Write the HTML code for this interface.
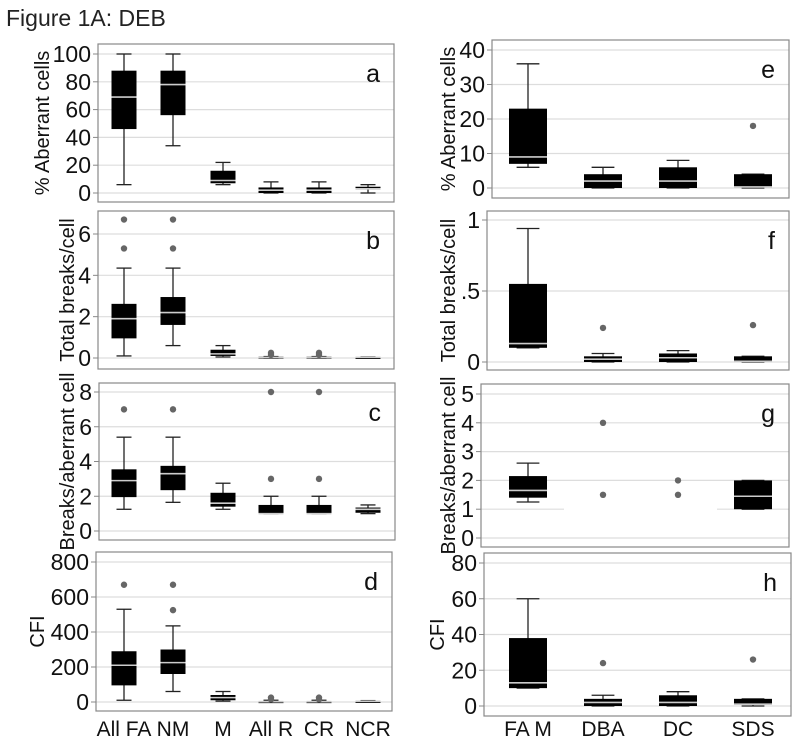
<!DOCTYPE html>
<html><head><meta charset="utf-8"><style>
html,body{margin:0;padding:0;background:#fff;}
svg{display:block;font-family:"Liberation Sans",sans-serif;}
</style></head><body>
<svg id="chart" width="800" height="746" viewBox="0 0 800 746" xmlns="http://www.w3.org/2000/svg">
<text x="6" y="26" font-size="23" fill="#222">Figure 1A: DEB</text>
</svg>
<script>
const leftCats = ["All FA","NM","M","All R","CR","NCR"];
const rightCats = ["FA M","DBA","DC","SDS"];
// box stats: [lowWhisker, q1, median, q3, highWhisker]
const boxesA = [[6,46,69,88,100],[34,56,78,88,100],[6,7,9,16,22],[0,0,2,4,8],[0,0,2,4,8],[0,2.5,3,4.5,6]];
const outA = [[],[],[],[],[],[]];
const boxesB = [[0.1,0.95,1.9,2.62,4.35],[0.6,1.6,2.2,2.95,4.35],[0.05,0.1,0.2,0.4,0.6],[0,0,0.03,0.07,0.07],[0,0,0.03,0.07,0.07],[0,0,0.03,0.05,0.05]];
const outB = [[5.3,6.7],[5.3,6.7],[],[0.15,0.25],[0.15,0.25],[]];
const boxesC = [[1.25,1.95,2.9,3.55,5.4],[1.65,2.35,3.3,3.75,5.4],[1.25,1.4,1.6,2.2,2.75],[1,1,1,1.5,2],[1,1,1,1.5,2],[1,1.05,1.25,1.35,1.5]];
const outC = [[7],[7],[],[3,8],[3,8],[]];
const boxesD = [[10,95,210,290,530],[60,160,225,300,435],[5,10,25,40,60],[0,0,2,5,10],[0,0,2,5,10],[0,2,4,6,8]];
const outD = [[670],[525,670],[],[15,25],[15,25],[]];
const boxesE = [[6,7,9,23,36],[0,0,2,4,6],[0,0,2,6,8],[0,0.3,0.3,4,4]];
const outE = [[],[],[],[18]];
const boxesF = [[0.1,0.1,0.13,0.55,0.94],[0,0,0.02,0.04,0.06],[0,0,0.03,0.06,0.08],[0,0.005,0.005,0.04,0.04]];
const outF = [[],[0.24],[],[0.26]];
const boxesG = [[1.25,1.4,1.65,2.15,2.6],[1,1,1,1,1],[1,1,1,1,1],[1,1,1.45,2,2]];
const outG = [[],[1.5,4],[1.5,2],[]];
const boxesH = [[10,10,13,38,60],[0,0,2,4,6],[0,0,2,6,8],[0,1,1,4,4]];
const outH = [[],[24],[],[26]];
const ticksA=[0,20,40,60,80,100], ticksB=[0,2,4,6], ticksC=[0,2,4,6,8], ticksD=[0,200,400,600,800];
const ticksE=[0,10,20,30,40], ticksF=[0,0.5,1], tickLabelsF=["0",".5","1"], ticksG=[0,1,2,3,4,5], ticksH=[0,20,40,60,80];

const NS="http://www.w3.org/2000/svg";
const svg=document.getElementById('chart');
function mk(tag,attrs,parent){const e=document.createElementNS(NS,tag);for(const k in attrs)e.setAttribute(k,attrs[k]);(parent||svg).appendChild(e);return e;}

function panel(p){
  const g=mk('g',{});
  
  
  const y=v=>p.y0+(v-p.vmin)*(p.y1-p.y0)/(p.vmax-p.vmin);
  p.ticks.forEach((t,i)=>{
    const gl=mk('line',{x1:p.fx0,x2:p.fx1,y1:y(t),y2:y(t),stroke:'#ddd','stroke-width':1.2},g);
    
    
    mk('line',{x1:p.fx0-5,x2:p.fx0,y1:y(t),y2:y(t),stroke:'#888','stroke-width':1},g);
    const tl=mk('text',{x:p.fx0-7,y:y(t)+8,'font-size':23,'text-anchor':'end',fill:'#111'},g);
    tl.textContent=p.tickLabels?p.tickLabels[i]:String(t);
    
    
  });
  const fr=mk('rect',{x:p.fx0,y:p.fy0,width:p.fx1-p.fx0,height:p.fy1-p.fy0,fill:'none',stroke:'#888','stroke-width':1.2},g);
  
  
  const cy=(p.fy0+p.fy1)/2;
  const at=mk('text',{x:p.titleX,y:cy,'font-size':20,'text-anchor':'middle',fill:'#111',transform:`rotate(-90 ${p.titleX} ${cy})`},g);
  at.textContent=p.title;
  
  
  const lt=mk('text',{x:p.fx1-14,y:p.fy0+38,'font-size':25,'text-anchor':'end',fill:'#111'},g);
  lt.textContent=p.letter;
  
  
  p.boxes.forEach((b,i)=>{
    const cx=p.xs[i], w=p.bw;
    const bg=mk('g',{},g);
    
    
    if(b[0]===b[4]){
      mk('line',{x1:cx-w/2-20,x2:cx+w/2+20,y1:y(b[2]),y2:y(b[2]),stroke:'#fff','stroke-width':2},bg);
    } else {
      mk('line',{x1:cx,x2:cx,y1:y(b[0]),y2:y(b[4]),stroke:'#222','stroke-width':1.3},bg);
      mk('line',{x1:cx-w*0.3,x2:cx+w*0.3,y1:y(b[0]),y2:y(b[0]),stroke:'#222','stroke-width':1.3},bg);
      mk('line',{x1:cx-w*0.3,x2:cx+w*0.3,y1:y(b[4]),y2:y(b[4]),stroke:'#222','stroke-width':1.3},bg);
      const h=Math.max(2,y(b[1])-y(b[3]));
      mk('rect',{x:cx-w/2,y:y(b[3]),width:w,height:h,fill:'#000'},bg);
      mk('line',{x1:cx-w/2,x2:cx+w/2,y1:y(b[2]),y2:y(b[2]),stroke:'#ccc','stroke-width':1.6},bg);
    }
    p.outs[i].forEach(o=>{
      const c=mk('circle',{cx:cx,cy:y(o),r:3.2,fill:'#666'},bg);
      
      
    });
  });
  if(p.showX){
    p.cats.forEach((c,i)=>{
      const t=mk('text',{x:p.xs[i],y:736,'font-size':21,'text-anchor':'middle',fill:'#111'},g);
      t.textContent=c;
      
      
    });
  }
}
const lx=[124,173,223,271,319,368], rx=[528,603,678,753];
panel({letter:'a',title:'% Aberrant cells',cats:leftCats,boxes:boxesA,outs:outA,ticks:ticksA,vmin:0,vmax:100,y0:193,y1:54,fx0:98,fx1:394,fy0:44,fy1:202,xs:lx,bw:25,titleX:49});
panel({letter:'b',title:'Total breaks/cell',cats:leftCats,boxes:boxesB,outs:outB,ticks:ticksB,vmin:0,vmax:6,y0:358,y1:234,fx0:98,fx1:394,fy0:211,fy1:369,xs:lx,bw:25,titleX:74});
panel({letter:'c',title:'Breaks/aberrant cell',cats:leftCats,boxes:boxesC,outs:outC,ticks:ticksC,vmin:0,vmax:8,y0:531,y1:392,fx0:99,fx1:395,fy0:383,fy1:540,xs:lx,bw:25,titleX:74});
panel({letter:'d',title:'CFI',cats:leftCats,boxes:boxesD,outs:outD,ticks:ticksD,vmin:0,vmax:800,y0:702,y1:562,fx0:96,fx1:392,fy0:552,fy1:711,xs:lx,bw:25,titleX:44,showX:true});
panel({letter:'e',title:'% Aberrant cells',cats:rightCats,boxes:boxesE,outs:outE,ticks:ticksE,vmin:0,vmax:40,y0:188,y1:50,fx0:492,fx1:789,fy0:40,fy1:198,xs:rx,bw:38,titleX:455});
panel({letter:'f',title:'Total breaks/cell',cats:rightCats,boxes:boxesF,outs:outF,ticks:ticksF,tickLabels:tickLabelsF,vmin:0,vmax:1,y0:362,y1:220,fx0:487,fx1:789,fy0:211,fy1:370,xs:rx,bw:38,titleX:455});
panel({letter:'g',title:'Breaks/aberrant cell',cats:rightCats,boxes:boxesG,outs:outG,ticks:ticksG,vmin:0,vmax:5,y0:538,y1:394,fx0:481,fx1:789,fy0:384,fy1:547,xs:rx,bw:38,titleX:455});
panel({letter:'h',title:'CFI',cats:rightCats,boxes:boxesH,outs:outH,ticks:ticksH,vmin:0,vmax:80,y0:706,y1:563,fx0:484,fx1:791,fy0:553,fy1:716,xs:rx,bw:38,titleX:444,showX:true});
</script>
</body></html>
